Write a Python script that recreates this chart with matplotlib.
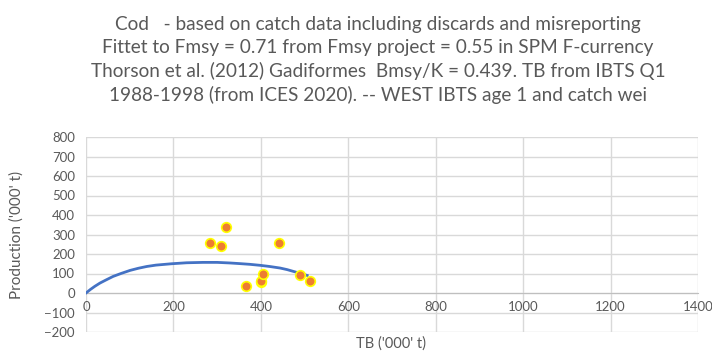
import matplotlib.pyplot as plt

# Observed production vs total biomass ('000 t)
tb_obs = [283, 308, 320, 441, 365, 400, 401, 404, 490, 512]
prod_obs = [258, 239, 338, 255, 34, 56, 63, 99, 90, 63]

# Fitted surplus production curve
tb_fit = [0, 10, 20, 32, 45, 62, 80, 101, 120, 139, 160, 196, 230, 268, 300,
          329, 350, 375, 398, 420, 444, 460, 474, 490, 506]
prod_fit = [0, 18, 34, 51, 66, 85, 100, 116, 127, 136, 143, 150, 155, 157, 157,
            154, 151, 147, 142, 136, 128, 120, 111, 101, 90]

x_ticks = list(range(0, 1401, 200))
y_ticks = list(range(-200, 801, 100))

title = ("Cod   - based on catch data including discards and misreporting\n"
         "Fittet to Fmsy = 0.71 from Fmsy project = 0.55 in SPM F-currency\n"
         "Thorson et al. (2012) Gadiformes  Bmsy/K = 0.439. TB from IBTS Q1\n"
         "1988-1998 (from ICES 2020). -- WEST IBTS age 1 and catch wei")

plt.rcParams['font.family'] = ['Lato', 'DejaVu Sans']
txt = '#595959'
grid = '#d9d9d9'

fig = plt.figure(figsize=(7.12, 3.51), dpi=100)
ax = fig.add_axes([86/712, 1-332/351, 612/712, 195/351])

ax.plot(tb_fit, prod_fit, color='#4472C4', lw=2, zorder=3, solid_joinstyle='round')
ax.scatter(tb_obs, prod_obs, s=48, color='#ED7D31', edgecolor='#FFFF00', linewidth=1.2, zorder=4)

ax.set_xlim(0, 1400)
ax.set_ylim(-200, 800)
ax.set_xticks(x_ticks)
ax.set_yticks(y_ticks)
ax.grid(True, color=grid, lw=1)
ax.set_axisbelow(True)
for s in ['top', 'right', 'left']:
    ax.spines[s].set_visible(False)
ax.spines['bottom'].set_position(('data', 0))
ax.spines['bottom'].set_color('#bfbfbf')
ax.tick_params(length=0, labelsize=9.5, labelcolor=txt)
ax.tick_params(axis='x', pad=6)
ax.tick_params(axis='y', pad=8)

fig.text(17/712, 1-235/351, "Production ('000' t)", rotation=90, ha='center', va='center',
         fontsize=11, color=txt)
fig.text(391/712, 1-344/351, "TB ('000' t)", ha='center', va='center', fontsize=10.5, color=txt)
fig.text(378/712, 1-60/351, title, ha='center', va='center', fontsize=13.7, color=txt,
         linespacing=1.39)

fig.savefig('out.png', dpi=100)
